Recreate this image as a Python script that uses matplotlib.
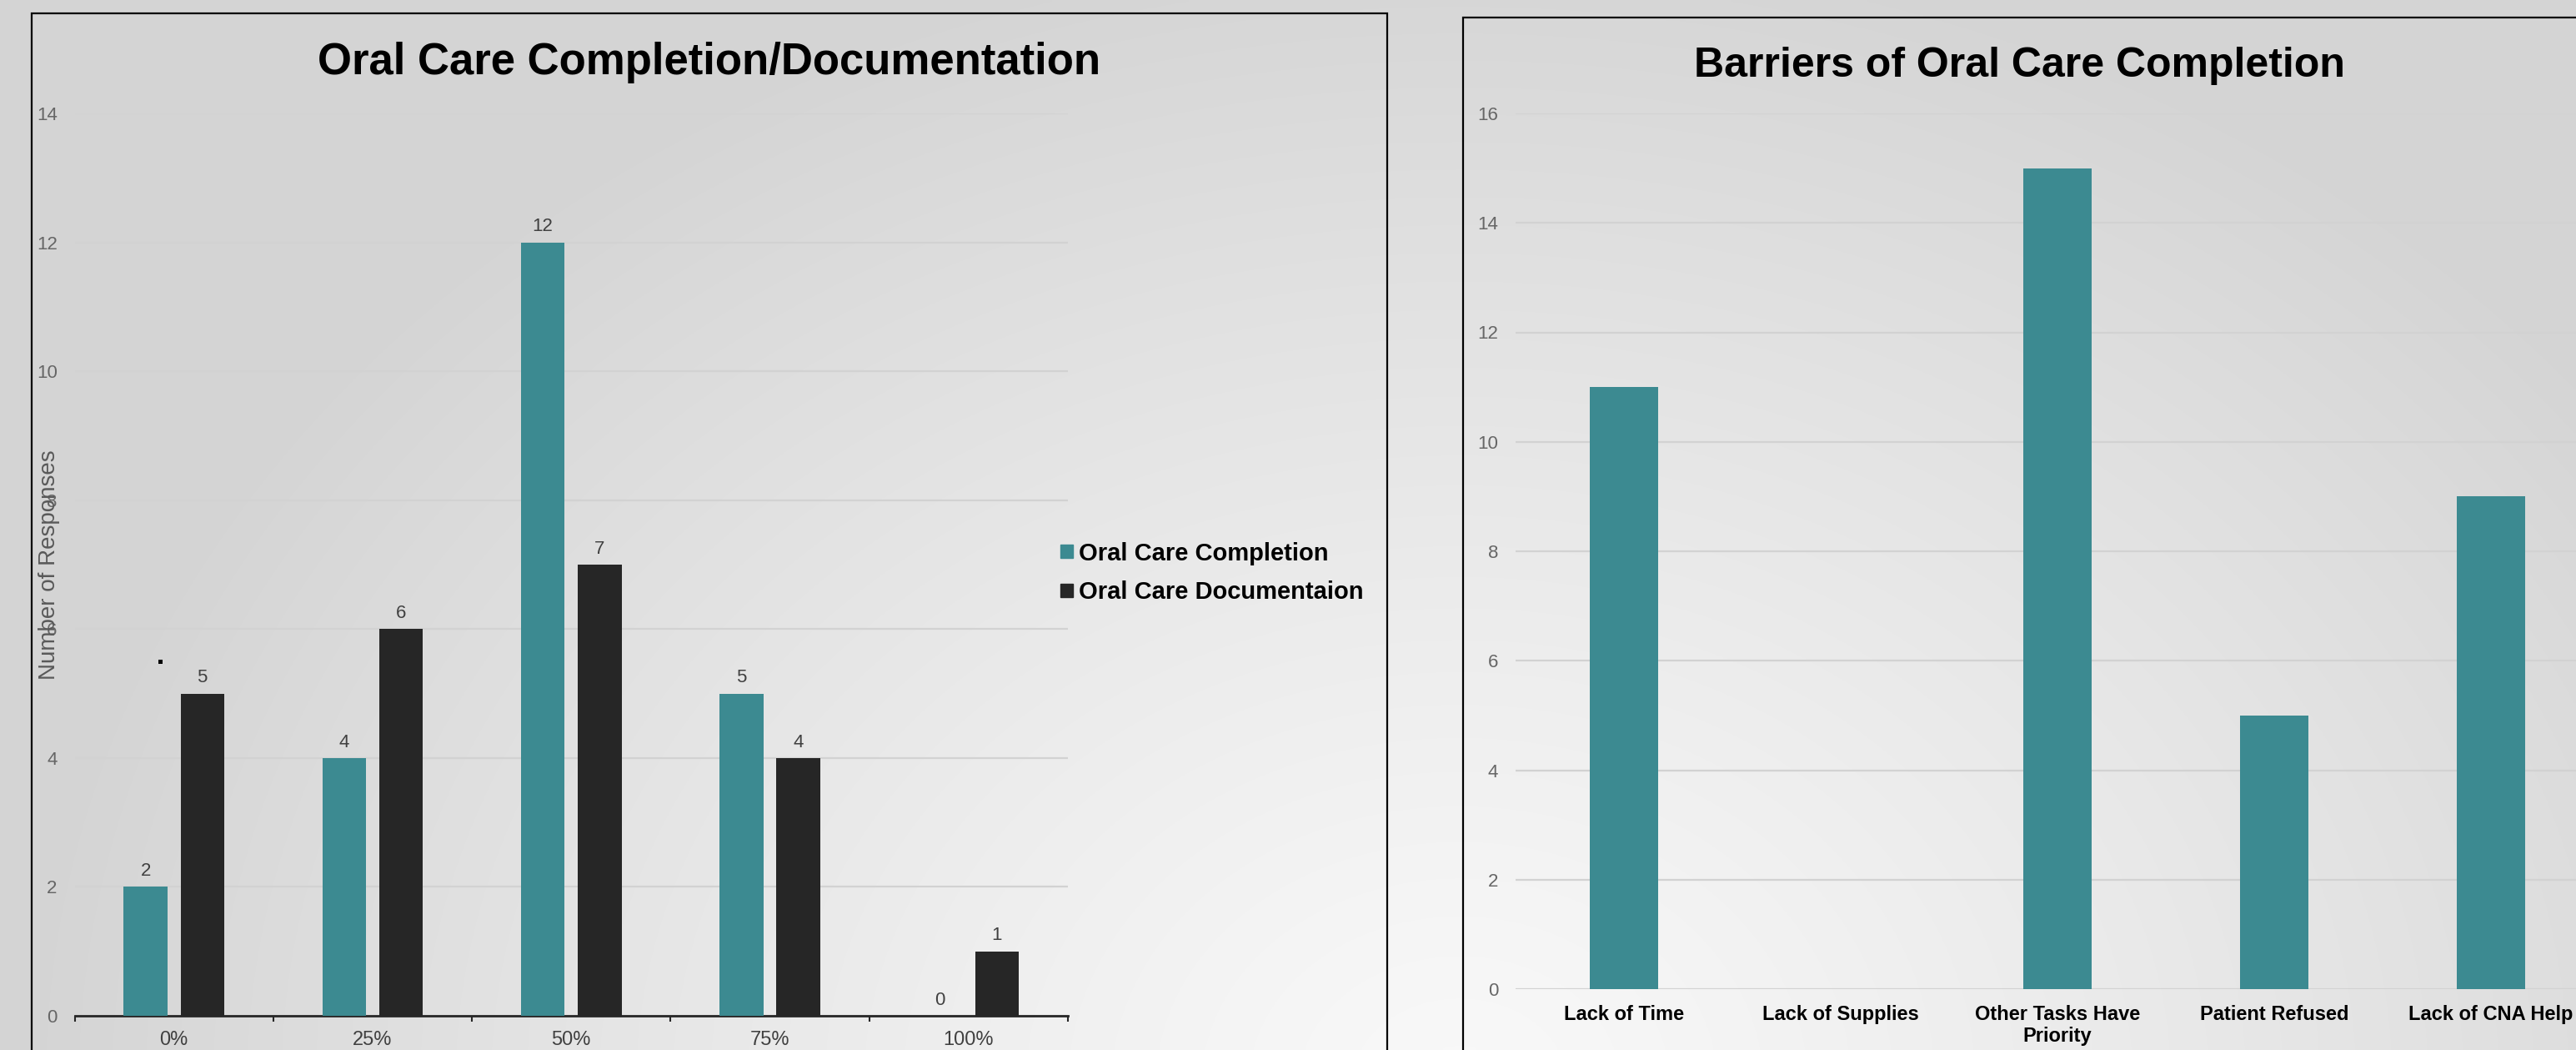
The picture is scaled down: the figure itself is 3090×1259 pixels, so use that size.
import numpy as np
import matplotlib
matplotlib.use("Agg")
import matplotlib.pyplot as plt
from matplotlib.patches import Rectangle, Patch

plt.rcParams['font.family'] = ['Liberation Sans', 'DejaVu Sans']

# ---------------- data ----------------
levels = ["0%", "25%", "50%", "75%", "100%"]
completion = [2, 4, 12, 5, 0]
documentation = [5, 6, 7, 4, 1]
left_title = "Oral Care Completion/Documentation"
left_ylabel = "Number of Responses"
series_names = ["Oral Care Completion", "Oral Care Documentaion"]
left_yticks = [0, 2, 4, 6, 8, 10, 12, 14]

barriers = ["Lack of Time", "Lack of Supplies", "Other Tasks Have\nPriority",
            "Patient Refused", "Lack of CNA Help"]
barrier_counts = [11, 0, 15, 5, 9]
right_title = "Barriers of Oral Care Completion"
right_yticks = [0, 2, 4, 6, 8, 10, 12, 14, 16]

TEAL = "#3c8a91"
DARK = "#262626"
GRID = "#d2d2d2"

W, H = 3090, 1259
fig = plt.figure(figsize=(W / 100, H / 100), dpi=100)

# ---------------- background gradient ----------------
bg = fig.add_axes([0, 0, 1, 1], zorder=-10)
yy, xx = np.mgrid[0:H:4, 0:W:4]
d = np.sqrt((xx - 1750) ** 2 + ((yy - 1300) * 1.25) ** 2) / 1700.0
val = 0.975 - 0.14 * np.clip(d, 0, 1) ** 1.2
bg.imshow(np.dstack([val, val, val]), extent=[0, 1, 0, 1], aspect='auto',
          transform=bg.transAxes, interpolation='bilinear')
bg.set_axis_off()

def fx(px):
    return px / W

def fy(py):
    return 1 - py / H

# panel borders
fig.add_artist(Rectangle((fx(38), fy(1300)), fx(1664) - fx(38), fy(16) - fy(1300),
                         transform=fig.transFigure, fill=False, ec="black", lw=1.6))
fig.add_artist(Rectangle((fx(1755), fy(1300)), fx(3200) - fx(1755), fy(21) - fy(1300),
                         transform=fig.transFigure, fill=False, ec="black", lw=1.6))
# small artifact square
fig.add_artist(Rectangle((fx(190), fy(796)), fx(5), 5 / H,
                         transform=fig.transFigure, fc="black", ec="none"))

# ---------------- left chart ----------------
axL = fig.add_axes([fx(89.5), fy(1218), fx(1281) - fx(89.5), (1218 - 136) / H])
axL.set_facecolor("none")
x = np.arange(len(levels))
bw = 0.22
off = 0.143
b1 = axL.bar(x - off, completion, bw, color=TEAL, label=series_names[0], zorder=3)
b2 = axL.bar(x + off, documentation, bw, color=DARK, label=series_names[1], zorder=3)
axL.bar_label(b1, padding=6, fontsize=16, color="#404040")
axL.bar_label(b2, padding=6, fontsize=16, color="#404040")
axL.set_xlim(-0.5, len(levels) - 0.5)
axL.set_ylim(0, 14)
axL.set_yticks(left_yticks)
axL.yaxis.grid(True, color=GRID, lw=1.6)
axL.set_axisbelow(True)
for s in ["left", "right", "top"]:
    axL.spines[s].set_visible(False)
axL.spines["bottom"].set_color(DARK)
axL.spines["bottom"].set_linewidth(2)
axL.set_xticks(x)
axL.set_xticklabels(levels, fontsize=17, color="#404040")
axL.set_xticks(np.arange(-0.5, len(levels), 1.0), minor=True)
axL.tick_params(axis="x", which="major", length=0, pad=13)
axL.tick_params(axis="x", which="minor", length=5, width=1.5, color=DARK)
axL.tick_params(axis="y", length=0, pad=15, labelsize=16, labelcolor="#666666")
axL.set_ylabel(left_ylabel, fontsize=20, color="#595959")
axL.yaxis.set_label_coords(-0.0145, 0.5)

fig.text(fx(851), fy(75), left_title, ha="center", va="center",
         fontsize=38, fontweight="bold", color="black")

handles = [Patch(color=TEAL, label=series_names[0]), Patch(color=DARK, label=series_names[1])]
fig.legend(handles=handles, loc="center left", bbox_to_anchor=(fx(1272), fy(687)),
           frameon=False, prop={"size": 21, "weight": "bold"}, handlelength=0.5,
           handleheight=0.5, handletextpad=0.25, borderpad=0, borderaxespad=0,
           labelspacing=0.65)

# ---------------- right chart ----------------
axR = fig.add_axes([fx(1818), fy(1186), 1300 / W, (1186 - 136) / H])
axR.set_facecolor("none")
xr = np.arange(len(barriers))
axR.bar(xr, barrier_counts, 0.313, color=TEAL, zorder=3)
axR.set_xlim(-0.5, len(barriers) - 0.5)
axR.set_ylim(0, 16)
axR.set_yticks(right_yticks)
axR.yaxis.grid(True, color=GRID, lw=1.6)
axR.set_axisbelow(True)
for s in ["left", "right", "top", "bottom"]:
    axR.spines[s].set_visible(False)
axR.set_xticks(xr)
axR.set_xticklabels(barriers, fontsize=17, fontweight="bold", color="black",
                    linespacing=1.15)
axR.tick_params(axis="x", length=0, pad=14)
axR.tick_params(axis="y", length=0, pad=15, labelsize=16, labelcolor="#666666")

fig.text(fx(2423), fy(79), right_title, ha="center", va="center",
         fontsize=36, fontweight="bold", color="black")

fig.savefig("out.png", dpi=100)
